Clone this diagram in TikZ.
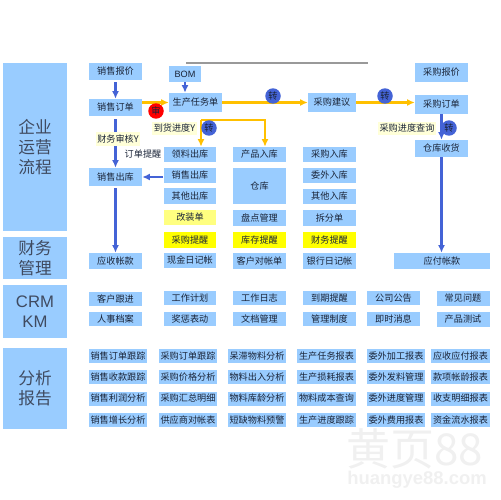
\documentclass[tikz,border=0pt]{standalone}
\usepackage{fontspec}
\setmainfont{Noto Sans CJK SC}
\newfontfamily\latinfont{Liberation Sans}
\usetikzlibrary{arrows.meta,positioning,calc}
\definecolor{Sky}{HTML}{99CCFF}
\definecolor{Ink}{HTML}{1A2438}
\definecolor{PanelInk}{HTML}{3F4A60}
\definecolor{Cobalt}{HTML}{4463D6}
\definecolor{Gold}{HTML}{FFC000}
\definecolor{Lemon}{HTML}{FFFF00}
\definecolor{PaleLemon}{HTML}{FFFF80}
\definecolor{Cream}{HTML}{FFFFD8}
\begin{document}
\begin{tikzpicture}[
  x=.02cm,y=-.02cm,>={Latex[length=1.5mm,width=1.4mm]},
  panel/.style={fill=Sky,text=PanelInk,inner sep=0pt,minimum width=1.28cm,
    align=center,font=\fontsize{9.5}{11.6}\selectfont},
  cell/.style={fill=Sky,text=Ink,inner sep=0pt,minimum width=1.06cm,
    minimum height=.3cm,font=\fontsize{5.2}{6}\selectfont},
  report/.style={cell,minimum width=1.17cm,minimum height=.28cm},
  hot/.style={cell,fill=Lemon},
  warm/.style={cell,fill=PaleLemon},
  note/.style={fill=Cream,text=Ink,inner sep=0pt,minimum height=.28cm,
    font=\fontsize{5.2}{6}\selectfont},
  badge/.style={circle,text=Ink,inner sep=0pt,minimum size=.31cm,
    font=\fontsize{5.2}{6}\selectfont},
  bflow/.style={->,line width=1.2pt,draw=Cobalt},
  yflow/.style={->,line width=1.2pt,draw=Gold},
  mark text/.style={text=black!6,inner sep=0pt}
]
\useasboundingbox (0,0) rectangle (500,500);
% left column
\node[panel,minimum height=3.36cm] (flowpanel) at (35,147) {企业\\运营\\流程};
\node[panel,minimum height=.84cm] (financepanel) at (35,258) {财务\\管理};
\node[panel,minimum height=1.06cm,font=\fontsize{9.5}{11.6}\latinfont] (crmpanel) at (35,311.5) {CRM\\KM};
\node[panel,minimum height=1.62cm] (reportpanel) at (35,388.5) {分析\\报告};
% sales column
\node[cell,minimum height=.34cm] (salequote) at (115.5,71.5) {销售报价};
\node[cell,minimum height=.34cm] (saleorder) at (115.5,107.5) {销售订单};
\node[cell,minimum height=.36cm] (saleout) at (115.5,177) {销售出库};
\node[cell,minimum height=.32cm] (receivable) at (115.5,261) {应收帐款};
\node[cell,minimum height=.28cm] (follow) at (115.5,299) {客户跟进};
\node[cell,minimum height=.28cm] (staff) at (115.5,319) {人事档案};
% production column
\node[cell,minimum width=.64cm,minimum height=.32cm] (bom) at (185,74) {\latinfont BOM};
\node[cell,minimum height=.38cm] (task) at (195.5,102.5) {生产任务单};
\node[cell] (pick) at (190,154.5) {领料出库};
\node[cell] (saleissue) at (190,175.5) {销售出库};
\node[cell,minimum height=.32cm] (otherout) at (190,196) {其他出库};
\node[warm] (refit) at (190,217.5) {改装单};
\node[hot,minimum height=.32cm] (buyalert) at (190,240) {采购提醒};
\node[cell] (cash) at (190,260.5) {现金日记帐};
\node[cell,minimum height=.28cm] (plan) at (190,298) {工作计划};
\node[cell,minimum height=.28cm] (reward) at (190,319) {奖惩表动};
% warehouse column
\node[cell] (prodin) at (259.5,154.5) {产品入库};
\node[cell,minimum height=.72cm] (store) at (259.5,186) {仓库};
\node[cell,minimum height=.32cm] (count) at (259.5,218) {盘点管理};
\node[hot,minimum height=.32cm] (stockalert) at (259.5,240) {库存提醒};
\node[cell,minimum height=.32cm] (statement) at (259.5,261) {客户对帐单};
\node[cell,minimum height=.28cm] (worklog) at (259.5,298) {工作日志};
\node[cell,minimum height=.28cm] (docs) at (259.5,319) {文档管理};
% purchase column
\node[cell,minimum width=.96cm,minimum height=.38cm] (advice) at (332,102.5) {采购建议};
\node[cell] (buyin) at (329.5,154.5) {采购入库};
\node[cell] (subin) at (329.5,175.5) {委外入库};
\node[cell] (otherin) at (329.5,196.5) {其他入库};
\node[cell,minimum height=.32cm] (split) at (329.5,218) {拆分单};
\node[hot,minimum height=.32cm] (fundalert) at (329.5,240) {财务提醒};
\node[cell,minimum height=.32cm] (bank) at (329.5,261) {银行日记帐};
\node[cell,minimum height=.28cm] (due) at (329.5,298) {到期提醒};
\node[cell,minimum height=.28cm] (rules) at (329.5,319) {管理制度};
\node[cell,minimum height=.28cm] (notice) at (393.5,298) {公司公告};
\node[cell,minimum height=.28cm] (chat) at (393.5,319) {即时消息};
\node[cell,minimum height=.3cm] (faq) at (463,298.5) {常见问题};
\node[cell,minimum height=.3cm] (test) at (463,319.5) {产品测试};
\node[cell,minimum height=.38cm] (buyquote) at (441.5,72.5) {采购报价};
\node[cell,minimum height=.38cm] (buyorder) at (441.5,104.5) {采购订单};
\node[cell,minimum height=.34cm] (receive) at (441.5,148.5) {仓库收货};
\node[cell,minimum width=1.92cm,minimum height=.32cm] (payable) at (442,261) {应付帐款};
% report grid
\node[report] (ra1) at (118,356) {销售订单跟踪};
\node[report] (ra2) at (118,377) {销售收款跟踪};
\node[report] (ra3) at (118,398.5) {销售利润分析};
\node[report] (ra4) at (118,420) {销售增长分析};
\node[report] (rb1) at (188,356) {采购订单跟踪};
\node[report] (rb2) at (188,377) {采购价格分析};
\node[report] (rb3) at (188,398.5) {采购汇总明细};
\node[report] (rb4) at (188,420) {供应商对帐表};
\node[report] (rc1) at (257,356) {呆滞物料分析};
\node[report] (rc2) at (257,377) {物料出入分析};
\node[report] (rc3) at (257,398.5) {物料库龄分析};
\node[report] (rc4) at (257,420) {短缺物料预警};
\node[report] (rd1) at (326.5,356) {生产任务报表};
\node[report] (rd2) at (326.5,377) {生产损耗报表};
\node[report] (rd3) at (326.5,398.5) {物料成本查询};
\node[report] (rd4) at (326.5,420) {生产进度跟踪};
\node[report] (re1) at (396,356) {委外加工报表};
\node[report] (re2) at (396,377) {委外发料管理};
\node[report] (re3) at (396,398.5) {委外进度管理};
\node[report] (re4) at (396,420) {委外费用报表};
\node[report] (rf1) at (460.5,356) {应收应付报表};
\node[report] (rf2) at (460.5,377) {款项帐龄报表};
\node[report] (rf3) at (460.5,398.5) {收支明细报表};
\node[report] (rf4) at (460.5,420) {资金流水报表};
% connectors
\coordinate (ruleleft) at (186,63);
\coordinate (ruleright) at (368,63);
\coordinate (branch) at (201,120);
\draw[line width=.6pt,draw=black!40] (ruleleft)--(ruleright);
\draw[bflow] ([yshift=-.04cm]salequote.south)--(saleorder.north);
\draw[bflow] ([yshift=-.06cm]saleorder.south)--(saleout.north);
\draw[bflow] ([yshift=-.04cm]saleout.south)--(receivable.north);
\draw[bflow] (saleout.east -| saleissue.west)--(saleout.east);
\draw[bflow] (bom)--(bom |- task.north);
\draw[bflow] (buyorder)--(receive);
\draw[bflow] (receive)--(receive |- payable.north);
\draw[yflow] (task.west -| saleorder.east)--(task.west);
\draw[yflow] (task)--(advice);
\draw[yflow] (advice)--(buyorder.west |- advice);
\draw[yflow] (branch)--(branch |- pick.north);
\draw[yflow] (branch)-|([xshift=.11cm]prodin.north);
% labels on the flow
\node[note,minimum width=.88cm] (auditnote) at (118,139) {财务审核Y};
\node[note,minimum width=.9cm] (arrivenote) at (174.5,128.5) {到货进度Y};
\node[inner sep=0pt,text=Ink,font=\fontsize{5.2}{6}\selectfont] (remind) at (143,154) {订单提醒};
\node[note,minimum width=1.16cm] (buynote) at (407,128.5) {采购进度查询};
\node[badge,fill=red] (audit) at (156,111) {审};
\node[badge,fill=Cobalt] (turna) at (209,128) {转};
\node[badge,fill=Cobalt] (turnb) at (273,96) {转};
\node[badge,fill=Cobalt] (turnc) at (385,96) {转};
\node[badge,fill=Cobalt] (turnd) at (449,128) {转};
% watermark
\node[mark text,font=\fontsize{25}{27}\selectfont] (markcn) at (415,449) {黄页88};
\node[mark text,font=\fontsize{10.5}{12}\latinfont\bfseries] (markurl) at (417,480) {huangye88.com};
\end{tikzpicture}
\end{document}
